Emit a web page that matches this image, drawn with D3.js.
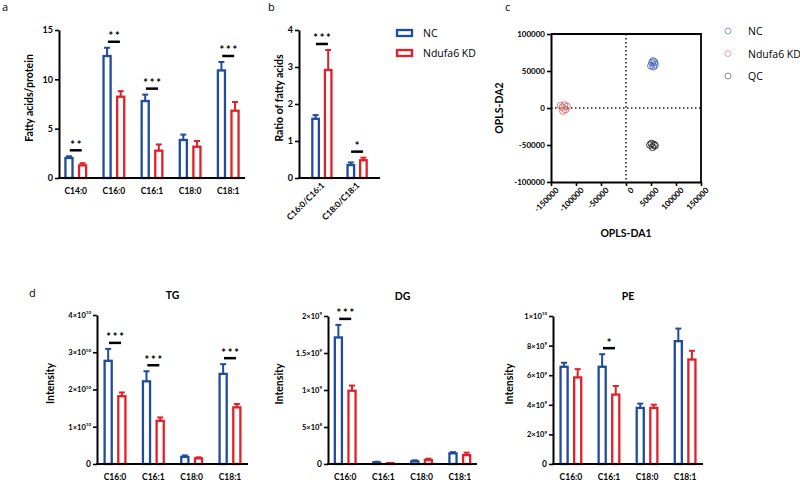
<!DOCTYPE html>
<html>
<head>
<meta charset="utf-8">
<script src="https://cdn.jsdelivr.net/npm/d3@7"></script>
<style>
  body { margin: 0; background: #fff; }
  svg { font-family: Lato, 'Open Sans', sans-serif; }
</style>
</head>
<body>
<div id="chart"></div>
<script>
// ---- data ----
const series = ['NC', 'Ndufa6 KD']

// panel a: fatty acids / protein
const catsA = ['C14:0', 'C16:0', 'C16:1', 'C18:0', 'C18:1']
const ncA = [2.03, 12.36, 7.8, 3.85, 10.9]
const ncErrA = [0.17, 0.84, 0.65, 0.55, 0.86]
const kdA = [1.28, 8.24, 2.77, 3.17, 6.82]
const kdErrA = [0.22, 0.56, 0.63, 0.58, 0.88]
const sigA = ['**', '**', '***', '', '***']

// panel b: ratio of fatty acids
const catsB = ['C16:0/C16:1', 'C18:0/C18:1']
const ncB = [1.6, 0.35]
const ncErrB = [0.1, 0.07]
const kdB = [2.92, 0.48]
const kdErrB = [0.54, 0.07]
const sigB = ['***', '*']

// panel c: OPLS-DA scores
const groupsC = ['NC', 'Ndufa6 KD', 'QC']
const scoresNC = [[50000, 57000], [57000, 62000], [54000, 63500], [58000, 58500], [52000, 61000], [55000, 56000]]
const scoresKD = [[-131000, 3000], [-121000, -2000], [-126000, -4000], [-118000, 2000], [-127000, 1000], [-123000, 4000]]
const scoresQC = [[48000, -50000], [53000, -53000], [58000, -51000], [51000, -48000], [56000, -49500]]
const ticksC = [-150000, -100000, -50000, 0, 50000, 100000, 150000]
const ticksCy = [-100000, -50000, 0, 50000, 100000]

// panel d: lipid classes
const catsD = ['C16:0', 'C16:1', 'C18:0', 'C18:1']
const ncTG = [2.77e10, 2.22e10, 0.19e10, 2.42e10]
const ncErrTG = [0.32e10, 0.27e10, 0.04e10, 0.26e10]
const kdTG = [1.82e10, 1.16e10, 0.15e10, 1.52e10]
const kdErrTG = [0.1e10, 0.09e10, 0.03e10, 0.09e10]
const sigTG = ['***', '***', '', '***']

const ncDG = [1.71e9, 0.02e9, 0.036e9, 0.144e9]
const ncErrDG = [0.17e9, 0.01e9, 0.014e9, 0.016e9]
const kdDG = [0.99e9, 0.01e9, 0.054e9, 0.12e9]
const kdErrDG = [0.07e9, 0.005e9, 0.018e9, 0.033e9]
const sigDG = ['***', '', '', '']

const ncPE = [6.57e9, 6.57e9, 3.79e9, 8.3e9]
const ncErrPE = [0.27e9, 0.85e9, 0.29e9, 0.85e9]
const kdPE = [5.85e9, 4.69e9, 3.79e9, 7.06e9]
const kdErrPE = [0.56e9, 0.58e9, 0.22e9, 0.59e9]
const sigPE = ['', '*', '', '']

const ticksTG = [[0, ''], [1e10, '10'], [2e10, '10'], [3e10, '10'], [4e10, '10']]
const ticksDG = [[0, ''], [5e8, '8'], [1e9, '9'], [1.5e9, '9'], [2e9, '9']]
const ticksPE = [[0, ''], [2e9, '9'], [4e9, '9'], [6e9, '9'], [8e9, '9'], [1e10, '10']]

const blue = '#1f4c9e'
const red = '#e32028'

const svg = d3.select('#chart').append('svg')
  .attr('width', 800).attr('height', 484)
  .attr('viewBox', '0 0 800 484')

// mantissa for "a×10^b" style tick labels
function mantissa (v, exp) {
  return d3.format('~g')(v / Math.pow(10, +exp))
}

function barPanel (o) {
  let g = svg.append('g')
  let y = d3.scaleLinear().domain([0, o.yMax]).range([o.bottom, o.top])
  let x0 = d3.scaleBand().domain(o.cats).range([o.left, o.right])
    .paddingInner(0.3).paddingOuter(o.padOuter)
  let x1 = d3.scaleBand().domain(series).range([0, x0.bandwidth()])
    .paddingInner(0.48).paddingOuter(0.22)

  let rows = []
  o.cats.forEach((c, i) => {
    rows.push({c, s: series[0], v: o.nc[i], e: o.ncErr[i], col: blue})
    rows.push({c, s: series[1], v: o.kd[i], e: o.kdErr[i], col: red})
  })

  // error bars (upper half only)
  let eb = g.selectAll('.err').data(rows).enter().append('g')
  eb.append('line')
    .attr('x1', d => x0(d.c) + x1(d.s) + x1.bandwidth() / 2)
    .attr('x2', d => x0(d.c) + x1(d.s) + x1.bandwidth() / 2)
    .attr('y1', d => y(d.v))
    .attr('y2', d => y(d.v + d.e))
    .attr('stroke', d => d.col).attr('stroke-width', 2)
  eb.append('line')
    .attr('x1', d => x0(d.c) + x1(d.s) + x1.bandwidth() / 2 - 3)
    .attr('x2', d => x0(d.c) + x1(d.s) + x1.bandwidth() / 2 + 3)
    .attr('y1', d => y(d.v + d.e))
    .attr('y2', d => y(d.v + d.e))
    .attr('stroke', d => d.col).attr('stroke-width', 2)

  g.selectAll('.bar').data(rows).enter().append('rect')
    .attr('x', d => x0(d.c) + x1(d.s))
    .attr('width', x1.bandwidth())
    .attr('y', d => y(d.v))
    .attr('height', d => Math.max(0, y(0) - y(d.v)))
    .attr('fill', '#fff')
    .attr('stroke', d => d.col).attr('stroke-width', 2.3)

  // significance
  o.sig.forEach((s, i) => {
    if (!s) return
    let c = o.cats[i]
    let top = Math.min(y(o.nc[i] + o.ncErr[i]), y(o.kd[i] + o.kdErr[i])) - 6
    let cx = x0(c) + x0.bandwidth() / 2
    g.append('line').attr('x1', cx - 6).attr('x2', cx + 6)
      .attr('y1', top).attr('y2', top)
      .attr('stroke', '#000').attr('stroke-width', 2.5)
    g.append('text').attr('x', cx + 1).attr('y', top - 1.5)
      .attr('text-anchor', 'middle')
      .attr('font-size', 11).attr('font-weight', 700)
      .attr('letter-spacing', 1.8)
      .text(s)
  })

  // y axis
  let ax = d3.axisLeft(y).tickSizeInner(4).tickSizeOuter(0).tickPadding(2)
  if (o.ticks) ax.tickValues(o.ticks.map(t => t[0])).tickFormat(() => '')
  else ax.tickValues(o.tickVals).tickFormat(d3.format('d'))
  let ya = g.append('g').attr('transform', `translate(${o.left},0)`).call(ax)
  ya.select('.domain').attr('stroke-width', 2)
  ya.selectAll('.tick line').attr('stroke-width', 1.6)
  ya.selectAll('.tick text').attr('font-size', o.ticks ? 7.5 : 9)
    .attr('font-weight', 700).attr('font-family', 'Lato, sans-serif')
  if (o.ticks) {
    ya.selectAll('.tick text').each(function (d, i) {
      let exp = o.ticks[i][1]
      let t = d3.select(this)
      if (!exp) { t.attr('font-size', 8.5).text('0'); return }
      t.append('tspan').text(mantissa(d, exp) + '×10')
      t.append('tspan').attr('dy', -3.5).attr('font-size', 4.5).text(exp)
    })
  }

  // x axis line + category labels
  g.append('line').attr('x1', o.left - 1).attr('x2', o.right)
    .attr('y1', o.bottom).attr('y2', o.bottom)
    .attr('stroke', '#000').attr('stroke-width', 2)
  let lab = g.selectAll('.cat').data(o.cats).enter().append('text')
    .attr('font-size', 8.5).attr('font-weight', 700)
    .text(d => d)
  if (o.rotate) {
    lab.attr('text-anchor', 'end')
      .attr('transform', d => `translate(${x0(d) + x0.bandwidth() / 2 + 3},${o.bottom + 8}) rotate(-45)`)
  } else {
    lab.attr('text-anchor', 'middle')
      .attr('x', d => x0(d) + x0.bandwidth() / 2)
      .attr('y', o.bottom + 16)
  }

  // y label
  g.append('text')
    .attr('transform', `translate(${o.labelX},${(o.top + o.bottom) / 2 - 6}) rotate(-90)`)
    .attr('text-anchor', 'middle').attr('font-size', 10.5).attr('font-weight', 700)
    .text(o.ylabel)

  if (o.title) {
    g.append('text').attr('x', (o.left + o.right) / 2).attr('y', o.top - 16)
      .attr('text-anchor', 'middle').attr('font-size', 10.5).attr('font-weight', 700)
      .text(o.title)
  }
}

barPanel({left: 59, right: 245, top: 30, bottom: 178, yMax: 15, tickVals: [0, 5, 10, 15],
  padOuter: 0.09, cats: catsA, nc: ncA, ncErr: ncErrA, kd: kdA, kdErr: kdErrA, sig: sigA,
  ylabel: 'Fatty acids/protein', labelX: 33})

barPanel({left: 299, right: 380, top: 30, bottom: 178, yMax: 4, tickVals: [0, 1, 2, 3, 4],
  padOuter: 0.3, cats: catsB, nc: ncB, ncErr: ncErrB, kd: kdB, kdErr: kdErrB, sig: sigB,
  ylabel: 'Ratio of fatty acids', labelX: 283, rotate: true})

barPanel({left: 97, right: 248, top: 315, bottom: 464, yMax: 4e10, ticks: ticksTG,
  padOuter: 0.12, cats: catsD, nc: ncTG, ncErr: ncErrTG, kd: kdTG, kdErr: kdErrTG, sig: sigTG,
  ylabel: 'Intensity', labelX: 54, title: 'TG'})

barPanel({left: 328, right: 477, top: 316, bottom: 464, yMax: 2e9, ticks: ticksDG,
  padOuter: 0.1, cats: catsD, nc: ncDG, ncErr: ncErrDG, kd: kdDG, kdErr: kdErrDG, sig: sigDG,
  ylabel: 'Intensity', labelX: 283, title: 'DG'})

barPanel({left: 553, right: 703, top: 316, bottom: 464, yMax: 1e10, ticks: ticksPE,
  padOuter: 0.12, cats: catsD, nc: ncPE, ncErr: ncErrPE, kd: kdPE, kdErr: kdErrPE, sig: sigPE,
  ylabel: 'Intensity', labelX: 513, title: 'PE'})

// legend for bar panels
let lg = svg.append('g')
series.forEach((s, i) => {
  lg.append('rect').attr('x', 397).attr('y', 30 + i * 20).attr('width', 15).attr('height', 6)
    .attr('fill', '#fff').attr('stroke', i ? red : blue).attr('stroke-width', 2.3)
  lg.append('text').attr('x', 423).attr('y', 37 + i * 20).attr('font-size', 10.5)
    .attr('font-family', "'Open Sans', sans-serif").text(s)
})

// ---- panel c: scatter ----
let cx = d3.scaleLinear().domain([-150000, 150000]).range([551, 701])
let cy = d3.scaleLinear().domain([-100000, 100000]).range([182, 34])
let gc = svg.append('g')
gc.append('line').attr('x1', cx(0)).attr('x2', cx(0)).attr('y1', cy(100000)).attr('y2', cy(-100000))
  .attr('stroke', '#222').attr('stroke-width', 1.6).attr('stroke-dasharray', '1.5,2.5')
gc.append('line').attr('x1', cx(-150000)).attr('x2', cx(150000)).attr('y1', cy(0)).attr('y2', cy(0))
  .attr('stroke', '#222').attr('stroke-width', 1.6).attr('stroke-dasharray', '1.5,2.5')
// frame top/right
gc.append('path').attr('d', `M${cx(-150000)},${cy(100000)}H${cx(150000)}V${cy(-100000)}`)
  .attr('fill', 'none').attr('stroke', '#000').attr('stroke-width', 1.8)

let ptColors = ['#4466bb', '#e06a6a', '#222']
let legColors = ['#8fa3cc', '#dba3a3', '#8a8a8a'];
[scoresNC, scoresKD, scoresQC].forEach((pts, k) => {
  gc.selectAll(null).data(pts).enter().append('circle')
    .attr('cx', d => cx(d[0])).attr('cy', d => cy(d[1])).attr('r', 3.4)
    .attr('fill', 'none').attr('stroke', ptColors[k]).attr('stroke-width', 0.9)
})

let axY = gc.append('g').attr('transform', `translate(${cx(-150000)},0)`)
  .call(d3.axisLeft(cy).tickValues(ticksCy).tickFormat(d => String(d)).tickSizeInner(4).tickSizeOuter(0).tickPadding(2))
let axX = gc.append('g').attr('transform', `translate(0,${cy(-100000)})`)
  .call(d3.axisBottom(cx).tickValues(ticksC).tickFormat(d => String(d)).tickSizeInner(4).tickSizeOuter(0))
;[axX, axY].forEach(a => {
  a.select('.domain').attr('stroke-width', 2)
  a.selectAll('.tick line').attr('stroke-width', 1.6)
  a.selectAll('.tick text').attr('font-size', 8).attr('font-weight', 700).attr('font-family', 'Lato, sans-serif')
})
axX.selectAll('.tick text').attr('text-anchor', 'end')
  .attr('transform', 'translate(3,4) rotate(-45)').attr('dy', '0.35em').attr('y', 4)

gc.append('text').attr('x', 626).attr('y', 237).attr('text-anchor', 'middle')
  .attr('font-size', 10.5).attr('font-weight', 700).text('OPLS-DA1')
gc.append('text').attr('transform', 'translate(503,108) rotate(-90)').attr('text-anchor', 'middle')
  .attr('font-size', 10.5).attr('font-weight', 700).text('OPLS-DA2')

groupsC.forEach((s, i) => {
  gc.append('circle').attr('cx', 728).attr('cy', 31 + i * 22.5).attr('r', 3)
    .attr('fill', 'none').attr('stroke', legColors[i]).attr('stroke-width', 1)
  gc.append('text').attr('x', 748).attr('y', 35 + i * 22.5).attr('font-size', 10.5)
    .attr('font-family', "'Open Sans', sans-serif").text(s)
})

// panel letters
const letters = [['a', 2, 11], ['b', 268, 11], ['c', 505, 11], ['d', 29, 297]]
svg.selectAll('.letter').data(letters).enter().append('text')
  .attr('x', d => d[1]).attr('y', d => d[2]).attr('font-size', 11)
  .attr('font-family', "'Open Sans', sans-serif").text(d => d[0])
</script>
</body>
</html>
